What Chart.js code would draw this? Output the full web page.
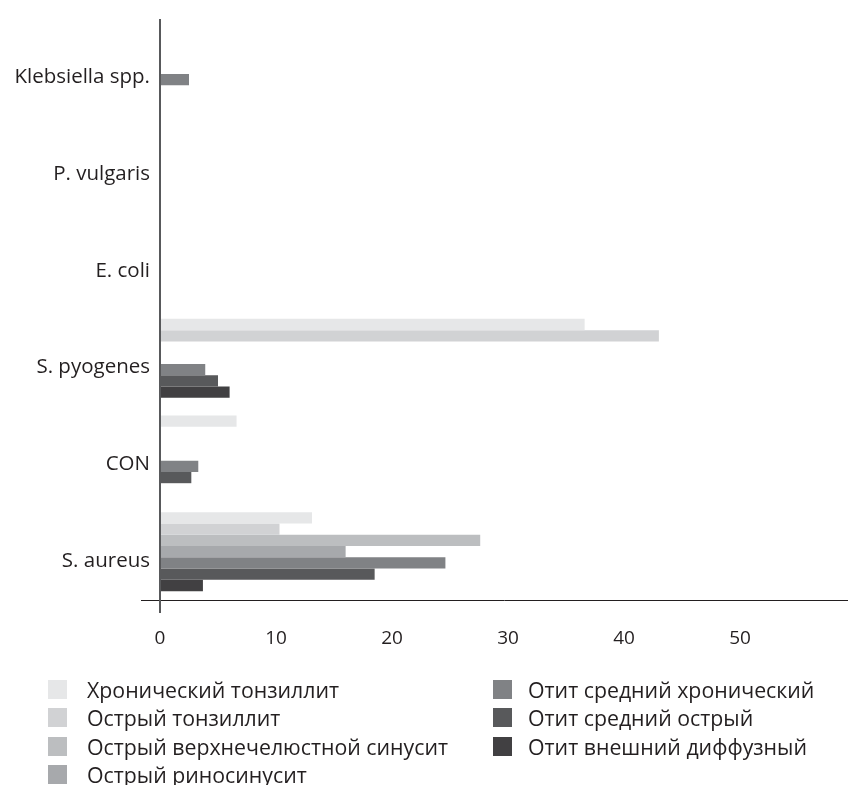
<!DOCTYPE html>
<html>
<head>
<meta charset="utf-8">
<script src="https://cdn.jsdelivr.net/npm/chart.js@4.4.1/dist/chart.umd.min.js"></script>
<style>
    html, body { margin: 0; overflow: hidden; background: #fff; font-family: 'Open Sans', sans-serif; color: #231f20; }
    #wrap { position: relative; width: 848px; height: 785px; overflow: hidden; }
    #chartBox { position: absolute; left: 0; top: 0; width: 848px; height: 650px; }
    #legend { position: absolute; left: 0; top: 0; width: 848px; height: 785px; pointer-events: none; }
    .item { position: absolute; height: 28px; display: flex; align-items: center; font-size: 21.3px; white-space: nowrap; }
    .sw { width: 19px; height: 19px; display: inline-block; }
</style>
</head>
<body>
<div id="wrap">
    <div id="chartBox"><canvas id="barChart"></canvas></div>
    <div id="legend"></div>
</div>
<script>
// categories, top to bottom
const bacteria = ['Klebsiella spp.', 'P. vulgaris', 'E. coli', 'S. pyogenes', 'CON', 'S. aureus'];

const seriesNames = [
    'Хронический тонзиллит',
    'Острый тонзиллит',
    'Острый верхнечелюстной синусит',
    'Острый риносинусит',
    'Отит средний хронический',
    'Отит средний острый',
    'Отит внешний диффузный'
];

// values per series, same order as bacteria
const chronTonsillitis = [0, 0, 0, 36.6, 6.6, 13.1];
const acuteTonsillitis = [0, 0, 0, 43, 0, 10.3];
const maxillarySinusitis = [0, 0, 0, 0, 0, 27.6];
const rhinosinusitis = [0, 0, 0, 0, 0, 16];
const chronOtitisMedia = [2.5, 0, 0, 3.9, 3.3, 24.6];
const acuteOtitisMedia = [0, 0, 0, 5, 2.7, 18.5];
const otitisExterna = [0, 0, 0, 6, 0, 3.7];

const xTicks = [0, 10, 20, 30, 40, 50];

const colors = ['#e6e7e8', '#d1d2d4', '#bcbec0', '#a7a9ac', '#808285', '#58595b', '#414042'];

const allSeries = [chronTonsillitis, acuteTonsillitis, maxillarySinusitis, rhinosinusitis,
    chronOtitisMedia, acuteOtitisMedia, otitisExterna];

const ctx = document.getElementById('barChart').getContext('2d');

const chart = new Chart(ctx, {
    type: 'bar',
    data: {
        labels: bacteria,
        datasets: allSeries.map((vals, i) => ({
            label: seriesNames[i],
            data: vals,
            backgroundColor: colors[i],
            borderWidth: 0,
            categoryPercentage: 0.817,
            barPercentage: 1
        }))
    },
    options: {
        indexAxis: 'y',
        responsive: true,
        maintainAspectRatio: false,
        animation: false,
        layout: { padding: { top: 20, right: 0, bottom: 0, left: 0 } },
        plugins: {
            legend: { display: false },
            tooltip: { enabled: false }
        },
        scales: {
            x: {
                min: 0,
                max: 59.3,
                ticks: {
                    stepSize: 10,
                    padding: 14,
                    color: '#231f20',
                    font: { family: 'Open Sans', size: 19 },
                    callback: v => xTicks.includes(v) ? v : ''
                },
                grid: {
                    drawOnChartArea: false,
                    tickLength: 13,
                    lineWidth: 2,
                    color: c => (c.tick && c.tick.value === 0) ? '#58595b' : 'rgba(0,0,0,0)'
                },
                border: { color: '#231f20', width: 1 },
                afterFit: scale => {
                    scale.height = 50;
                    // axis runs to the right edge of the picture
                    scale.paddingRight = 0;
                }
            },
            y: {
                ticks: {
                    padding: -9,
                    labelOffset: 9,
                    color: '#231f20',
                    font: { family: 'Open Sans', size: 20.5 }
                },
                grid: {
                    drawOnChartArea: false,
                    tickLength: 19,
                    lineWidth: 1,
                    // only the bottom boundary line: it extends the x axis to the left
                    color: c => c.type === 'scale' ? '#231f20' : 'rgba(0,0,0,0)'
                },
                border: { color: '#58595b', width: 2 },
                afterFit: scale => { scale.width = 160; }
            }
        }
    }
});

// legend in two columns, like the original
const legend = document.getElementById('legend');
chart.data.datasets.forEach((ds, i) => {
    const col = i < 4 ? 0 : 1;
    const row = i < 4 ? i : i - 4;
    const item = document.createElement('div');
    item.className = 'item';
    item.style.left = (col === 0 ? 48 : 493) + 'px';
    item.style.top = (675 + row * 28.5) + 'px';
    const sw = document.createElement('span');
    sw.className = 'sw';
    sw.style.background = ds.backgroundColor;
    sw.style.marginRight = (col === 0 ? 20 : 16) + 'px';
    item.appendChild(sw);
    item.appendChild(document.createTextNode(ds.label));
    legend.appendChild(item);
});
</script>
</body>
</html>
